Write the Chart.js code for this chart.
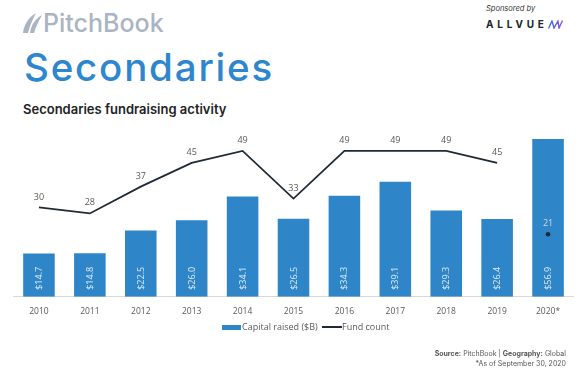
<!DOCTYPE html>
<html>
<head>
<meta charset="utf-8">
<script src="https://cdn.jsdelivr.net/npm/chart.js@4/dist/chart.umd.min.js"></script>
<style>
  html, body { margin:0; padding:0; background:#fff; }
  body { width:576px; height:379px; position:relative; overflow:hidden; font-family:Inter, "Noto Sans", sans-serif; }
  .abs { position:absolute; white-space:nowrap; }
  #logoText { left:43px; top:8px; font-size:25px; font-weight:500; color:#aab4c3; line-height:30px; letter-spacing:0px; }
  #title { left:24px; top:44px; font-size:38.5px; font-weight:500; color:#2e86cf; line-height:46px; letter-spacing:1.8px; }
  #subtitle { left:23px; top:101px; font-size:13px; font-weight:600; color:#222; line-height:16px; }
  #sponsored { left:486px; top:4px; font-size:7.5px; font-style:italic; color:#333; line-height:10px; }
  #allvue { left:486px; top:18.5px; font-size:10px; font-weight:700; color:#222; letter-spacing:3.8px; line-height:11px; }
  #legend { left:0; top:320px; width:576px; height:14px; font-family:"Open Sans", sans-serif; font-size:9px; color:#595959; }
  .lg { position:absolute; top:0; line-height:14px; }
  #source { right:10px; top:349px; font-size:7px; color:#555; line-height:9px; text-align:right; }
  #asof { right:10px; top:359px; font-size:7px; color:#555; line-height:9px; text-align:right; }
  canvas { position:absolute; left:0; top:120px; }
</style>
</head>
<body>
<svg class="abs" style="left:21px;top:12px" width="22" height="22" viewBox="0 0 22 22">
  <path d="M2 21 C3 12 8 5 15 1 C12 7 9 13 7 21 Z" fill="#aab4c3"/>
  <path d="M9 21 C10 13 14 7 21 3 C18 9 15 14 13 21 Z" fill="#aab4c3"/>
</svg>
<div id="logoText" class="abs">PitchBook</div>
<div id="title" class="abs">Secondaries</div>
<div id="subtitle" class="abs">Secondaries fundraising activity</div>
<div id="sponsored" class="abs">Sponsored by</div>
<div id="allvue" class="abs">ALLVUE</div>
<svg class="abs" style="left:548px;top:20px" width="15" height="9" viewBox="0 0 15 9">
  <defs><linearGradient id="g" x1="0" x2="1"><stop offset="0" stop-color="#3b6fe0"/><stop offset="1" stop-color="#8a4de0"/></linearGradient></defs>
  <polyline points="0.5,8.5 4,1 6,8 10,1 11,8 14.5,0.5" fill="none" stroke="url(#g)" stroke-width="1.4"/>
</svg>

<canvas id="c" width="576" height="211"></canvas>

<div id="legend" class="abs">
  <div class="lg" style="left:221.5px;top:4.5px;width:19px;height:5px;background:#2e86c8;"></div>
  <div class="lg" style="left:242px;">Capital raised ($B)</div>
  <div class="lg" style="left:321.5px;top:6px;width:20px;height:2px;background:#1f2a38;"></div>
  <div class="lg" style="left:342px;">Fund count</div>
</div>

<div id="source" class="abs"><b>Source:</b> PitchBook | <b>Geography:</b> Global</div>
<div id="asof" class="abs">*As of September 30, 2020</div>

<script>
const years = ['2010','2011','2012','2013','2014','2015','2016','2017','2018','2019','2020*'];
const capitalRaised = [14.7, 14.8, 22.5, 26.0, 34.1, 26.5, 34.3, 39.1, 29.3, 26.4, 56.9];
const fundCount = [30, 28, 37, 45, 49, 33, 49, 49, 49, 45, 21];

const BAR_COLOR = '#2e86c8';
const LINE_COLOR = '#1f2a38';
const LAST = years.length - 1;

const labelPlugin = {
  id: 'valueLabels',
  afterDatasetsDraw(chart) {
    const ctx = chart.ctx;
    const barMeta = chart.getDatasetMeta(0);
    ctx.save();
    ctx.font = '9px "Open Sans", sans-serif';
    ctx.fillStyle = '#dfeaf6';
    ctx.textAlign = 'left';
    ctx.textBaseline = 'middle';
    barMeta.data.forEach((el, i) => {
      ctx.save();
      ctx.translate(el.x, el.base - 7);
      ctx.rotate(-Math.PI / 2);
      ctx.fillText('$' + capitalRaised[i].toFixed(1), 0, 0.5);
      ctx.restore();
    });
    const lineMeta = chart.getDatasetMeta(1);
    ctx.textAlign = 'center';
    lineMeta.data.forEach((el, i) => {
      ctx.fillStyle = i === LAST ? '#cfd8e2' : '#595959';
      ctx.fillText(String(fundCount[i]), el.x, el.y - 10.5);
    });
    ctx.restore();
  }
};

new Chart(document.getElementById('c'), {
  data: {
    labels: years,
    datasets: [
      {
        type: 'bar',
        label: 'Capital raised ($B)',
        data: capitalRaised,
        backgroundColor: BAR_COLOR,
        borderWidth: 0,
        categoryPercentage: 1,
        barPercentage: 0.62,
        yAxisID: 'y',
        order: 2,
        clip: 0
      },
      {
        type: 'line',
        label: 'Fund count',
        data: fundCount,
        borderColor: LINE_COLOR,
        backgroundColor: LINE_COLOR,
        borderWidth: 1.8,
        tension: 0,
        pointRadius: ctx => ctx.dataIndex === LAST ? 2.3 : 0,
        pointHoverRadius: 0,
        pointBorderWidth: 0,
        segment: {
          borderColor: ctx => ctx.p1DataIndex === LAST ? 'rgba(0,0,0,0)' : LINE_COLOR
        },
        yAxisID: 'y1',
        order: 1
      }
    ]
  },
  options: {
    responsive: false,
    animation: false,
    devicePixelRatio: 1,
    layout: { padding: { left: 13.5, right: 2.5, top: 19, bottom: 4 } },
    plugins: { legend: { display: false }, tooltip: { enabled: false } },
    scales: {
      x: {
        grid: { display: false, drawTicks: false },
        border: { display: true, color: '#d9d9d9', width: 1 },
        ticks: { color: '#595959', font: { family: '"Open Sans", sans-serif', size: 8.5 }, padding: 10, maxRotation: 0 }
      },
      y: { display: false, min: 0, max: 53.6 },
      y1: { display: false, min: 0, max: 53 }
    }
  },
  plugins: [labelPlugin]
});
</script>
</body>
</html>
